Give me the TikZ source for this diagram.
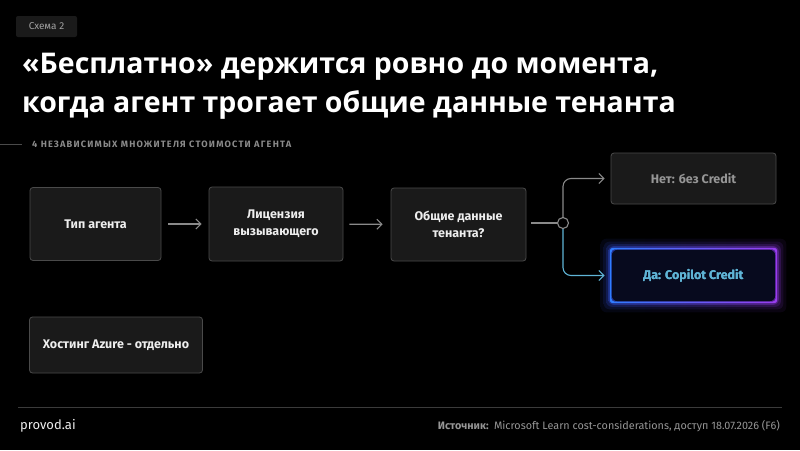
\documentclass[tikz,border=0pt]{standalone}
\usepackage{fontspec}
\setmainfont{Fira Sans}
\newfontfamily\headfont{Open Sans}
\usepackage{tikz}
\usetikzlibrary{arrows.meta, positioning, calc}
\definecolor{provbg}{HTML}{000000}
\definecolor{provbox}{HTML}{1A1A1A}
\definecolor{provedge}{HTML}{4A4A4A}
\definecolor{provtext}{HTML}{EEEEEE}
\definecolor{provgray}{HTML}{8A8A8A}
\definecolor{provcyan}{HTML}{5FB4D6}
\definecolor{provblue}{HTML}{3A5CFF}
\definecolor{provviolet}{HTML}{9A3CF0}
\definecolor{provnavy}{HTML}{070A1E}

\begin{document}
\begin{tikzpicture}[x=1pt,y=-1pt,
    box/.style={draw=provedge,fill=provbox,rounded corners=3pt,line width=0.8pt,
      text=provtext,font=\fontsize{12.5}{17}\selectfont\bfseries,align=center},
    flow/.style={-{Straight Barb[length=5pt,width=10pt]},provgray,line width=1.1pt}]
  \fill[provbg] (0,0) rectangle (800,450);
  \useasboundingbox (0,0) rectangle (800,450);

  % header
  \node[fill=provbox,rounded corners=2pt,minimum width=61pt,minimum height=21pt,
    inner sep=0pt,text=provgray!80!white,font=\fontsize{10}{12}\selectfont] (tag) at (46.5,26.5) {Схема 2};
  \node[anchor=north west,align=left,text=white,inner sep=0pt,
    font=\headfont\fontsize{28.5}{38.5}\selectfont\bfseries] (title) at (22,53)
    {«Бесплатно» держится ровно до момента,\\когда агент трогает общие данные тенанта};
  \draw[provedge,line width=0.8pt] (0,144) -- (22,144);
  \node[anchor=west,inner sep=0pt,text=provgray,
    font=\fontsize{9.2}{10}\selectfont\bfseries\addfontfeatures{LetterSpace=13}] (sub) at (32,144)
    {4 НЕЗАВИСИМЫХ МНОЖИТЕЛЯ СТОИМОСТИ АГЕНТА};

  % chain
  \node[box,minimum width=131pt,minimum height=73pt] (type) at (95.5,224) {Тип агента};
  \node[box,minimum width=134pt,minimum height=74pt] (lic) at (276,224) {Лицензия\\вызывающего};
  \node[box,minimum width=135pt,minimum height=73pt] (shared) at (458.5,224.5) {Общие данные\\тенанта?};
  \node[box,minimum width=165pt,minimum height=51pt,text=provgray!90!white] (no) at (693.5,178.5) {Нет: без Credit};
  \node[box,draw=none,fill=provnavy,minimum width=165pt,minimum height=53pt,text=provcyan] (yes) at (693.5,275.5) {Да: Copilot Credit};
  \node[box,minimum width=173pt,minimum height=56pt] (host) at (116,345) {Хостинг Azure - отдельно};

  % glow round the yes box
  \foreach \g/\o in {10/0.07,7/0.11,4.5/0.18,2.5/0.32}
    \shade[left color=provblue,right color=provviolet,opacity=\o,even odd rule,rounded corners=6pt]
      ($(yes.north west)+(-\g,-\g)$) rectangle ($(yes.south east)+(\g,\g)$)
      ($(yes.north west)+(1,1)$) rectangle ($(yes.south east)+(-1,-1)$);
  \shade[left color=provblue!80!cyan,right color=provviolet,even odd rule,rounded corners=3pt]
    ($(yes.north west)+(-0.8,-0.8)$) rectangle ($(yes.south east)+(0.8,0.8)$)
    ($(yes.north west)+(0.8,0.8)$) rectangle ($(yes.south east)+(-0.8,-0.8)$);
  \node[text=provcyan,font=\fontsize{12.5}{17}\selectfont\bfseries] at (yes) {Да: Copilot Credit};

  \draw[flow,shorten <=7pt,shorten >=7pt] (type) -- (lic);
  \draw[flow,shorten <=6pt,shorten >=8pt] (lic) -- (shared);

  \node[circle,draw=provgray,fill=provbg,line width=1.1pt,minimum size=11pt,inner sep=0pt] (split) at (563,223) {};
  \draw[provgray,line width=1.1pt,shorten <=5pt] (shared.east |- split) -- (split);
  \draw[flow,rounded corners=8pt,shorten >=6pt] (split.north) |- (no.west);
  \draw[flow,provcyan,rounded corners=8pt,shorten >=6pt] (split.south) |- (yes.west);

  % footer
  \draw[provedge!80!black,line width=0.8pt] (18,407) -- (782,407);
  \node[anchor=west,inner sep=0pt,text=provtext,font=\fontsize{13}{15}\selectfont] (brand) at (20,426) {provod.ai};
  \node[anchor=east,inner sep=0pt,text=provgray!90!white,font=\fontsize{10.8}{12}\selectfont] (src) at (780,426)
    {\textbf{Источник:}\enspace Microsoft Learn cost-considerations, доступ 18.07.2026 (F6)};
\end{tikzpicture}
\end{document}
